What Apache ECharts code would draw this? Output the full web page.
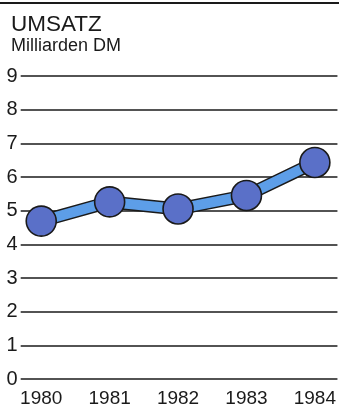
<!DOCTYPE html>
<html><head><meta charset="utf-8">
<script src="https://cdn.jsdelivr.net/npm/echarts@6/dist/echarts.min.js"></script>
<style>html,body{margin:0;padding:0;background:#fff}#c{width:339px;height:409px}</style>
</head><body><div id="c"></div>
<script>
var years = [1980, 1981, 1982, 1983, 1984];
var umsatz = [4.69, 5.26, 5.05, 5.45, 6.43];
var yTicks = [0, 1, 2, 3, 4, 5, 6, 7, 8, 9];
var titleText = 'UMSATZ';
var subtitleText = 'Milliarden DM';

var pts = years.map(function (y, i) { return [y, umsatz[i]]; });
var FONT = 'Liberation Sans, Arial, Helvetica, sans-serif';
var chart = echarts.init(document.getElementById('c'));
chart.setOption({
  animation: false,
  graphic: { elements: [{ type: 'rect', left: 0, top: 2, shape: { x: 0, y: 0, width: 339, height: 2 }, style: { fill: '#1a1a1a' }, z: 100 }] },
  title: {
    text: titleText, subtext: subtitleText, left: 6, top: 8, itemGap: 1,
    textStyle: { fontFamily: FONT, fontSize: 22.5, fontWeight: 'normal', color: '#1a1a1a' },
    subtextStyle: { fontFamily: FONT, fontSize: 18, color: '#1a1a1a' }
  },
  grid: { left: 20.7, right: 0, top: 76, bottom: 30, containLabel: false },
  xAxis: {
    type: 'value', min: 1979.70, max: 1984.33,
    axisLine: { show: false }, axisTick: { show: false }, splitLine: { show: false },
    axisLabel: { customValues: years, formatter: function (v) { return String(v); }, fontFamily: FONT, fontSize: 19, color: '#1a1a1a', margin: 10 }
  },
  yAxis: {
    type: 'value', min: 0, max: 9, interval: 1,
    axisLine: { show: false }, axisTick: { show: false },
    splitLine: { lineStyle: { color: '#1a1a1a', width: 1.6 } },
    axisLabel: { fontFamily: FONT, fontSize: 20, color: '#1a1a1a', margin: 3 }
  },
  series: [
    { type: 'line', data: pts, symbol: 'none', lineStyle: { color: '#1a1a1a', width: 13 }, z: 2 },
    { type: 'line', data: pts, symbol: 'none', lineStyle: { color: '#5d9ee8', width: 10 }, z: 3 },
    { type: 'scatter', data: pts, symbolSize: 30, itemStyle: { color: '#5a70c8', borderColor: '#1a1a1a', borderWidth: 1.6, opacity: 1 }, z: 4 }
  ]
});
</script></body></html>
